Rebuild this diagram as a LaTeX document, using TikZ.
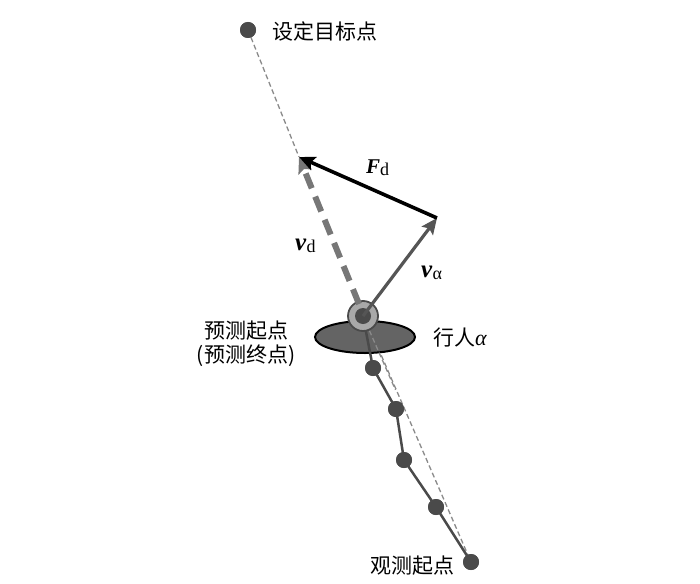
\documentclass[tikz,border=0pt]{standalone}
\usepackage{fontspec}
\setmainfont{Liberation Serif}
\newfontfamily\cjk{Noto Sans CJK SC}
\usetikzlibrary{arrows.meta,shapes.geometric,calc}
\definecolor{dotc}{HTML}{4A4A4A}
\definecolor{guide}{HTML}{8A8A8A}
\definecolor{valc}{HTML}{555555}
\definecolor{vdc}{HTML}{777777}
\definecolor{bodyc}{HTML}{646464}
\definecolor{headc}{HTML}{A8A8A8}
\tikzset{
  dotnode/.style={circle,fill=dotc,minimum size=16pt,inner sep=0pt},
  cn/.style={font=\cjk\fontsize{21}{24}\selectfont,inner sep=0pt},
  lab/.style={inner sep=0pt},
  guideline/.style={guide,line width=1.3pt,dash pattern=on 5pt off 3pt},
  tip/.style={-{Stealth[length=16pt,width=14pt,inset=3pt]}}
}
\newcommand{\subd}[1]{\raisebox{-2pt}{\fontsize{18}{20}\selectfont #1}}
\begin{document}
\begin{tikzpicture}[x=1pt,y=-1pt]
\useasboundingbox (0,0) rectangle (700,583);
\coordinate (ve) at (437,218);
\coordinate (ft) at (299,157);
\coordinate (vds) at (359,304);
\coordinate (c) at (363,316);
% guide line
\node[dotnode] (t) at (248,30) {};
\node[dotnode] (p5) at (471,562) {};
\draw[guideline] (t.center) -- (ft);
\draw[guideline] (vds) -- (p5.center);
% pedestrian body
\node[ellipse,draw=black,line width=2pt,fill=bodyc,minimum width=100pt,minimum height=32pt,inner sep=0pt] (body) at (365,337) {};
\draw[guideline] (c) -- ($(c)!0.3!(p5)$);
% trajectory
\node[dotnode] (p1) at (373,368) {};
\node[dotnode] (p2) at (396,409) {};
\node[dotnode] (p3) at (404,460) {};
\node[dotnode] (p4) at (436,507) {};
\draw[dotc,line width=2.5pt] (c) -- (p1.center) -- (p2.center) -- (p3.center) -- (p4.center) -- (p5.center);
\foreach \n in {p1,p2,p3,p4,p5,t} \fill[dotc] (\n) circle (8pt);
\node[circle,draw=dotc,line width=1.8pt,fill=headc,minimum size=30pt,inner sep=0pt] (head) at (c) {};
\node[dotnode] (hd) at (c) {};
% v_d dashed
\draw[vdc,line width=6pt,dash pattern=on 16pt off 9pt,tip] (vds) -- (ft);
% v_alpha
\draw[valc,line width=3.2pt,tip] (c) -- (ve);
% F_d
\draw[black,line width=3.6pt,tip] (ve) -- (ft);
% labels
\node[cn,anchor=west] (lt) at (272,31) {设定目标点};
\node[lab,anchor=base west] (lf) at (366,173) {\fontsize{21}{24}\selectfont\textbf{\textit{F}}\subd{d}};
\node[lab,anchor=base west] (lvd) at (295,250) {\fontsize{25}{28}\selectfont\textbf{\textit{v}}\subd{d}};
\node[lab,anchor=base west] (lva) at (421,277) {\fontsize{25}{28}\selectfont\textbf{\textit{v}}\subd{α}};
\node[cn] (l1) at (246,331) {预测起点};
\node[cn] (l2) at (246,356) {(预测终点)};
\node[cn,anchor=west] (lp) at (433,338) {行人{\rmfamily\itshape\fontsize{22}{24}\selectfont α}};
\node[cn,anchor=east] (lo) at (455,566) {观测起点};
\end{tikzpicture}
\end{document}
